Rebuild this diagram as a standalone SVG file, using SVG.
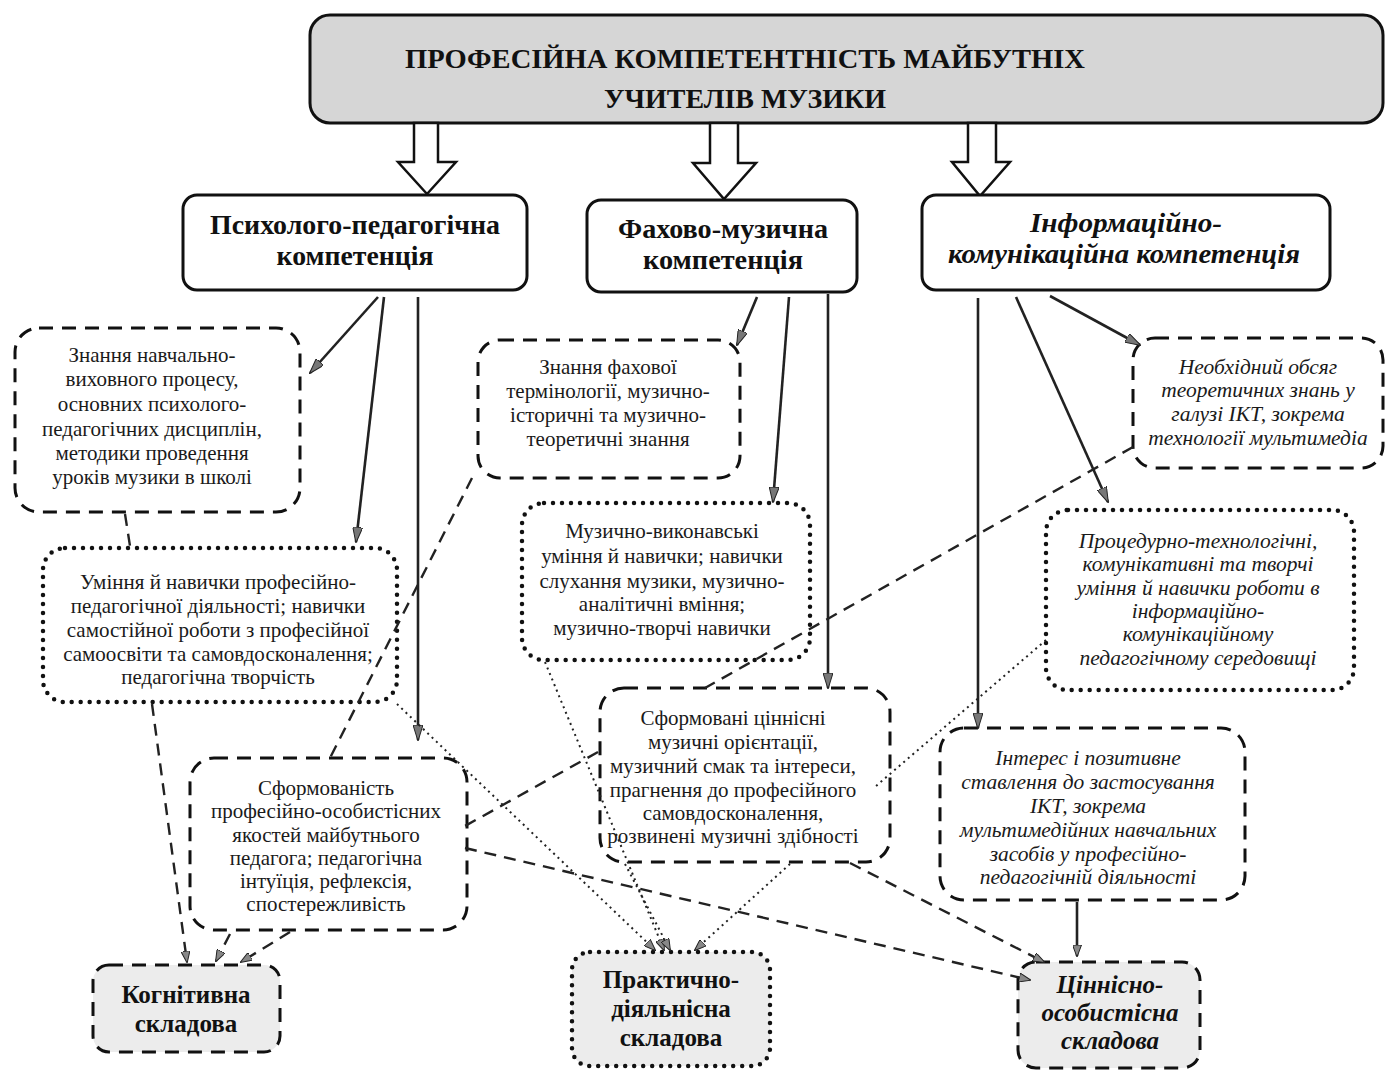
<svg xmlns="http://www.w3.org/2000/svg" width="1387" height="1071" viewBox="0 0 1387 1071">
<style>
.t{font-family:"Liberation Serif","Times New Roman",serif;font-size:21px;fill:#1a1a1a;text-anchor:middle}
.ti{font-style:italic;font-size:21.5px}
.h{font-family:"Liberation Serif","Times New Roman",serif;font-weight:bold;font-size:28px;fill:#111;text-anchor:middle}
.hi{font-style:italic}
.b{font-size:25px}
.solidbox{fill:#fff;stroke:#111;stroke-width:3}
.dashbox{fill:none;stroke:#111;stroke-width:3;stroke-dasharray:14 9}
.dotbox{fill:none;stroke:#111;stroke-width:4.5;stroke-dasharray:0 9;stroke-linecap:round}
.gray{fill:#ececec}
.sl{fill:none;stroke:#222;stroke-width:2.6}
.dl{fill:none;stroke:#222;stroke-width:2.4;stroke-dasharray:12 8}
.ol{fill:none;stroke:#222;stroke-width:2;stroke-dasharray:2 4}
.block{fill:#fff;stroke:#111;stroke-width:2.5;stroke-linejoin:miter}
</style>
<defs>
<marker id="ah" markerUnits="userSpaceOnUse" viewBox="0 0 16 10" markerWidth="16" markerHeight="10" refX="15" refY="5" orient="auto">
<path d="M0,0 L16,5 L0,10 z" fill="#777" stroke="#222" stroke-width="1"/>
</marker>
<marker id="as" markerUnits="userSpaceOnUse" viewBox="0 0 12 9" markerWidth="12" markerHeight="9" refX="11" refY="4.5" orient="auto">
<path d="M0,0 L12,4.5 L0,9 z" fill="#888" stroke="#222" stroke-width="1"/>
</marker>
</defs>
<rect width="1387" height="1071" fill="#fff"/>

<g id="title">
<rect x="310" y="15" width="1073" height="108" rx="20" fill="#d6d6d6" stroke="#111" stroke-width="3"/>
<text class="h" x="745" y="68" font-size="36" textLength="680" lengthAdjust="spacingAndGlyphs">ПРОФЕСІЙНА КОМПЕТЕНТНІСТЬ МАЙБУТНІХ</text>
<text class="h" x="745" y="108" font-size="36" textLength="282" lengthAdjust="spacingAndGlyphs">УЧИТЕЛІВ МУЗИКИ</text>
</g>

<g id="block-arrows">
<polygon class="block" points="414,123 438,123 438,162 456,162 427,194 398,162 414,162"/>
<polygon class="block" points="710,123 738,123 738,163 756,163 724,199 693,163 710,163"/>
<polygon class="block" points="968,123 996,123 996,162 1010,162 980,196 952,162 968,162"/>
</g>

<g id="psych">
<rect class="solidbox" x="183" y="195" width="344" height="95" rx="14"/>
<text class="h" x="355" y="234" textLength="290" lengthAdjust="spacingAndGlyphs">Психолого-педагогічна</text>
<text class="h" x="355" y="265" textLength="157" lengthAdjust="spacingAndGlyphs">компетенція</text>
</g>
<g id="music">
<rect class="solidbox" x="587" y="200" width="270" height="92" rx="14"/>
<text class="h" x="723" y="238" textLength="210" lengthAdjust="spacingAndGlyphs">Фахово-музична</text>
<text class="h" x="723" y="269" textLength="160" lengthAdjust="spacingAndGlyphs">компетенція</text>
</g>
<g id="ict">
<rect class="solidbox" x="922" y="195" width="408" height="95" rx="14"/>
<text class="h hi" x="1126" y="232" textLength="192" lengthAdjust="spacingAndGlyphs">Інформаційно-</text>
<text class="h hi" x="1124" y="263" textLength="352" lengthAdjust="spacingAndGlyphs">комунікаційна компетенція</text>
</g>

<g id="know-psych">
<rect class="dashbox" x="15" y="328" width="285" height="184" rx="24"/>
<text class="t" x="152" y="362">Знання навчально-</text>
<text class="t" x="152" y="386">виховного процесу,</text>
<text class="t" x="152" y="411">основних психолого-</text>
<text class="t" x="152" y="436">педагогічних дисциплін,</text>
<text class="t" x="152" y="460">методики проведення</text>
<text class="t" x="152" y="484">уроків музики в школі</text>
</g>
<g id="know-music">
<rect class="dashbox" x="478" y="340" width="262" height="138" rx="22"/>
<text class="t" x="608" y="374">Знання фахової</text>
<text class="t" x="608" y="398">термінології, музично-</text>
<text class="t" x="608" y="422">історичні та музично-</text>
<text class="t" x="608" y="446">теоретичні знання</text>
</g>
<g id="know-ict">
<rect class="dashbox" x="1133" y="338" width="250" height="130" rx="22"/>
<text class="t ti" x="1258" y="374">Необхідний обсяг</text>
<text class="t ti" x="1258" y="397">теоретичних знань у</text>
<text class="t ti" x="1258" y="421">галузі ІКТ, зокрема</text>
<text class="t ti" x="1258" y="445">технології мультимедіа</text>
</g>

<g id="skill-psych">
<rect class="dotbox" x="43" y="548" width="354" height="154" rx="22"/>
<text class="t" x="218" y="589">Уміння й навички професійно-</text>
<text class="t" x="218" y="613">педагогічної діяльності; навички</text>
<text class="t" x="218" y="637">самостійної роботи з професійної</text>
<text class="t" x="218" y="661">самоосвіти та самовдосконалення;</text>
<text class="t" x="218" y="684">педагогічна творчість</text>
</g>
<g id="skill-music">
<rect class="dotbox" x="522" y="503" width="288" height="157" rx="22"/>
<text class="t" x="662" y="538">Музично-виконавські</text>
<text class="t" x="662" y="563">уміння й навички; навички</text>
<text class="t" x="662" y="588">слухання музики, музично-</text>
<text class="t" x="662" y="611">аналітичні вміння;</text>
<text class="t" x="662" y="635">музично-творчі навички</text>
</g>
<g id="skill-ict">
<rect class="dotbox" x="1046" y="510" width="308" height="180" rx="22"/>
<text class="t ti" x="1198" y="548">Процедурно-технологічні,</text>
<text class="t ti" x="1198" y="571">комунікативні та творчі</text>
<text class="t ti" x="1198" y="595">уміння й навички роботи в</text>
<text class="t ti" x="1198" y="618">інформаційно-</text>
<text class="t ti" x="1198" y="641">комунікаційному</text>
<text class="t ti" x="1198" y="665">педагогічному середовищі</text>
</g>

<g id="value-psych">
<rect class="dashbox" x="190" y="758" width="277" height="172" rx="24"/>
<text class="t" x="326" y="795">Сформованість</text>
<text class="t" x="326" y="818">професійно-особистісних</text>
<text class="t" x="326" y="842">якостей майбутнього</text>
<text class="t" x="326" y="865">педагога; педагогічна</text>
<text class="t" x="326" y="888">інтуїція, рефлексія,</text>
<text class="t" x="326" y="911">спостережливість</text>
</g>
<g id="value-music">
<rect class="dashbox" x="600" y="688" width="290" height="174" rx="24"/>
<text class="t" x="733" y="725">Сформовані ціннісні</text>
<text class="t" x="733" y="749">музичні орієнтації,</text>
<text class="t" x="733" y="773">музичний смак та інтереси,</text>
<text class="t" x="733" y="797">прагнення до професійного</text>
<text class="t" x="733" y="820">самовдосконалення,</text>
<text class="t" x="733" y="843">розвинені музичні здібності</text>
</g>
<g id="value-ict">
<rect class="dashbox" x="940" y="728" width="305" height="172" rx="24"/>
<text class="t ti" x="1088" y="765">Інтерес і позитивне</text>
<text class="t ti" x="1088" y="789">ставлення до застосування</text>
<text class="t ti" x="1088" y="813">ІКТ, зокрема</text>
<text class="t ti" x="1088" y="837">мультимедійних навчальних</text>
<text class="t ti" x="1088" y="861">засобів у професійно-</text>
<text class="t ti" x="1088" y="884">педагогічній діяльності</text>
</g>

<g id="cognitive">
<rect class="dashbox gray" x="93" y="965" width="187" height="87" rx="16"/>
<text class="h b" x="186" y="1003">Когнітивна</text>
<text class="h b" x="186" y="1032">складова</text>
</g>
<g id="practical">
<rect class="dotbox gray" x="572" y="952" width="198" height="114" rx="18"/>
<text class="h b" x="671" y="988">Практично-</text>
<text class="h b" x="671" y="1017">діяльнісна</text>
<text class="h b" x="671" y="1046">складова</text>
</g>
<g id="valuecomp">
<rect class="dashbox gray" x="1018" y="962" width="182" height="106" rx="18"/>
<text class="h hi b" x="1110" y="993">Ціннісно-</text>
<text class="h hi b" x="1110" y="1021">особистісна</text>
<text class="h hi b" x="1110" y="1049">складова</text>
</g>

<g id="connectors">
<line class="sl" x1="378" y1="297" x2="310" y2="373" marker-end="url(#ah)"/>
<line class="sl" x1="384" y1="297" x2="356" y2="542" marker-end="url(#ah)"/>
<line class="sl" x1="418" y1="297" x2="418" y2="740" marker-end="url(#ah)"/>
<line class="sl" x1="757" y1="297" x2="737" y2="345" marker-end="url(#ah)"/>
<line class="sl" x1="789" y1="297" x2="773" y2="502" marker-end="url(#ah)"/>
<line class="sl" x1="828" y1="294" x2="828" y2="688" marker-end="url(#ah)"/>
<line class="sl" x1="1050" y1="296" x2="1140" y2="345" marker-end="url(#ah)"/>
<line class="sl" x1="1016" y1="297" x2="1108" y2="502" marker-end="url(#ah)"/>
<line class="sl" x1="978" y1="298" x2="978" y2="728" marker-end="url(#ah)"/>

<line class="dl" x1="125" y1="514" x2="130" y2="546"/>
<line class="dl" x1="152" y1="704" x2="187" y2="962" marker-end="url(#as)"/>
<line class="dl" x1="472" y1="478" x2="330" y2="758"/>
<line class="dl" x1="230" y1="934" x2="216" y2="961" marker-end="url(#as)"/>
<line class="dl" x1="290" y1="932" x2="241" y2="962" marker-end="url(#as)"/>
<line class="dl" x1="598" y1="752" x2="465" y2="826"/>
<line class="dl" x1="465" y1="848" x2="1030" y2="980" marker-end="url(#as)"/>
<line class="dl" x1="850" y1="863" x2="1044" y2="962" marker-end="url(#as)"/>
<line class="dl" x1="1133" y1="447" x2="705" y2="688"/>
<line class="sl" x1="1077" y1="902" x2="1077" y2="956" stroke-width="2" marker-end="url(#as)"/>

<line class="ol" x1="397" y1="704" x2="655" y2="950" marker-end="url(#as)"/>
<line class="ol" x1="545" y1="662" x2="664" y2="950" marker-end="url(#as)"/>
<line class="ol" x1="625" y1="864" x2="670" y2="950" marker-end="url(#as)"/>
<line class="ol" x1="790" y1="864" x2="695" y2="950" marker-end="url(#as)"/>
<line class="ol" x1="1046" y1="640" x2="876" y2="786"/>
</g>
</svg>
